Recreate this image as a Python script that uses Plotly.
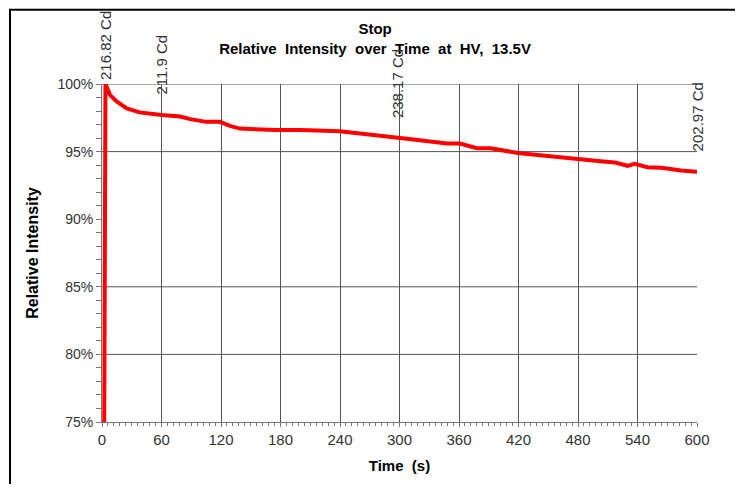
import plotly.graph_objects as go

# Data
time_s = [1.5, 3.5, 8, 15, 25, 38, 60, 79, 89, 105, 119, 129, 139, 162, 176, 189, 200, 240,
          280, 298, 314, 348, 361, 378, 392, 419, 443, 466, 480, 500, 517, 530, 537, 550, 564, 584, 600]
rel_intensity = [0.60, 1.000, 0.992, 0.987, 0.982, 0.979, 0.977, 0.976, 0.974, 0.972, 0.972, 0.969,
                 0.967, 0.966, 0.966, 0.966, 0.966, 0.965, 0.962, 0.960, 0.959, 0.956, 0.956, 0.9525,
                 0.9525, 0.949, 0.947, 0.945, 0.9445, 0.943, 0.942, 0.9395, 0.941, 0.9385, 0.938, 0.936, 0.935]

label_times = [3.5, 60, 298, 600]
label_values = [1.000, 0.977, 0.960, 0.935]
label_texts = ["216.82 Cd", "211.9 Cd", "238.17 Cd", "202.97 Cd"]
label_shifts = [2, 18, 18, 18]

x_ticks = list(range(0, 601, 60))
y_ticks = [0.75, 0.80, 0.85, 0.90, 0.95, 1.00]
grid_y = [0.80, 0.85, 0.95, 1.00]

font_family = "Liberation Sans, Arial, sans-serif"

fig = go.Figure()
fig.add_trace(go.Scatter(x=time_s, y=rel_intensity, mode="lines",
                         line=dict(color="#ff0000", width=4), showlegend=False,
                         hoverinfo="skip"))

shapes = []
for gy in grid_y:
    shapes.append(dict(type="line", xref="x", yref="y", x0=0, x1=600, y0=gy, y1=gy,
                       line=dict(color="#555555", width=1), layer="below"))
# outer frame
shapes.append(dict(type="rect", xref="paper", yref="paper",
                   x0=-0.1546, x1=1.0706, y0=-0.3, y1=1.2199,
                   line=dict(color="black", width=2)))

annotations = []
for t, v, txt, sh in zip(label_times, label_values, label_texts, label_shifts):
    annotations.append(dict(x=t, y=v, xref="x", yref="y", text=txt, showarrow=False,
                            textangle=-90, yanchor="bottom", xanchor="center", yshift=sh,
                            font=dict(family=font_family, size=15, color="#333333")))

fig.update_layout(
    width=743, height=476,
    margin=dict(l=94, r=54, t=76, b=59),
    paper_bgcolor="white", plot_bgcolor="white",
    title=dict(text="<b>Stop<br>Relative  Intensity  over  Time  at  HV,  13.5V</b>",
               x=0.494, xanchor="center", y=1 - 26 / 476, yanchor="top",
               font=dict(family=font_family, size=15, color="black")),
    shapes=shapes,
    annotations=annotations,
    xaxis=dict(range=[0, 600], tickvals=x_ticks, showgrid=True, gridcolor="#555555", gridwidth=1,
               zeroline=False, showline=True, linecolor="#777777", linewidth=1,
               ticks="outside", ticklen=4, tickcolor="#777777",
               minor=dict(dtick=6, ticks="outside", ticklen=3, tickcolor="#777777", showgrid=False),
               tickfont=dict(family=font_family, size=15, color="#333333"),
               title=dict(text="<b>Time  (s)</b>", standoff=13,
                          font=dict(family=font_family, size=15, color="black"))),
    yaxis=dict(range=[0.75, 1.0], tickvals=y_ticks, tickformat=".0%", showgrid=False,
               zeroline=False, showline=True, linecolor="#777777", linewidth=1,
               ticks="outside", ticklen=5, tickcolor="#777777",
               minor=dict(dtick=0.01, ticks="outside", ticklen=5, tickcolor="#777777", showgrid=False),
               tickfont=dict(family=font_family, size=14, color="#333333"),
               title=dict(text="<b>Relative Intensity</b>", standoff=14,
                          font=dict(family=font_family, size=16, color="black"))),
)

fig.write_html("out.html")
